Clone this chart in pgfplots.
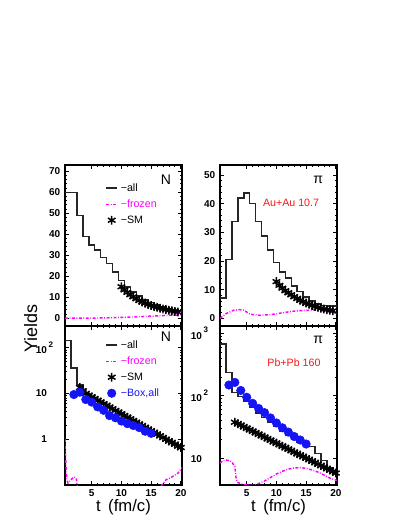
\documentclass[border=0pt]{standalone}
\usepackage{pgfplots}
\pgfplotsset{compat=1.18}
\usepackage{fontspec}
\setmainfont{Liberation Sans}
\definecolor{rmag}{RGB}{255,0,255}
\definecolor{rblue}{RGB}{20,20,245}
\definecolor{rred}{RGB}{255,20,20}
\newcommand\tenexp[1]{10\rlap{\hspace{1.2pt}\raisebox{5pt}{\fontsize{6}{6}\selectfont #1}}}
\pgfplotsset{
  rootax/.style={scale only axis, width=87.75pt, xmin=0.5, xmax=20.2,
    tick align=inside, xtick pos=both, ytick pos=both,
    major tick length=3.2pt, minor tick length=1.6pt,
    axis line style={line width=0.9pt},
    every tick/.style={black, line width=0.6pt},
    tick label style={font=\bfseries\fontsize{7.5}{8}\selectfont},
    xtick={5,10,15,20}, minor x tick num=4,
    legend cell align=left,
    legend style={draw=none, fill=none, inner sep=0pt, row sep=0pt,
      font=\fontsize{8}{9}\selectfont,
      nodes={inner ysep=0pt, text height=8.5pt, text depth=3.5pt},
      /tikz/every even column/.append style={column sep=7pt}},
  },
  lineleg/.style={legend image code/.code={\draw[##1] (0pt,0pt) -- (8.5pt,0pt);}},
  markleg/.style={legend image code/.code={\draw[mark repeat=2,mark phase=2,##1] plot coordinates {(0pt,0pt)(4.25pt,0pt)(8.5pt,0pt)};}},
  frz/.style={rmag, line width=1.1pt, dash pattern=on 2.2pt off 1.2pt on 0.6pt off 1.2pt},
  hst/.style={const plot, black!85, line width=1.15pt},
  sm/.style={only marks, mark=asterisk, mark size=3.3pt, mark options={line width=1.1pt}, black},
  box/.style={only marks, mark=*, mark size=3.2pt, mark options={fill=rblue, draw=rblue}},
}
\begin{document}
\begin{tikzpicture}
\path[use as bounding box] (0,0) rectangle (303pt,392.25pt);

% ---------------- top left: N, Au+Au
\begin{axis}[rootax, at={(48.75pt,147.75pt)}, anchor=south west, height=120.75pt,
  ymin=-3.7, ymax=73, ytick={0,10,20,30,40,50,60,70}, minor y tick num=4,
  yticklabels={0,10,20,30,40,50,60,70}, xticklabels={},
  legend style={at={(axis description cs:0.342,0.907)}, anchor=north west}]
\addplot[hst, lineleg] coordinates {
(0.5,60)(1.5,60)(2.5,49)(3.5,39)(4.5,35)(5.5,32.5)(6.5,29)(7.5,26)(8.5,22)(9.5,18)(10.5,15)(11.5,12.5)(12.5,10.5)(13.5,8.8)(14.5,7.4)(15.5,6.3)(16.5,5.3)(17.5,4.6)(18.5,4.0)(19.5,3.5)(20.5,3.5)};
\addlegendentry{−all}
\addplot[frz, lineleg] coordinates {
(0.5,0)(3,0)(6,0.1)(9,0.3)(12,0.6)(15,1.0)(18,1.4)(20.2,1.6)};
\addlegendentry{\textcolor{rmag}{−frozen}}
\addplot[sm, markleg] coordinates {
(10,15.0)(10.5,13.5)(11,12.3)(11.5,11.2)(12,10.2)(12.5,9.3)(13,8.5)(13.5,7.8)(14,7.2)(14.5,6.6)(15,6.1)(15.5,5.6)(16,5.2)(16.5,4.8)(17,4.4)(17.5,4.1)(18,3.8)(18.5,3.5)(19,3.2)(19.5,3.0)};
\addlegendentry{−SM}
\node[font=\fontsize{10.5}{12}\selectfont] at (axis description cs:0.862,0.907) {N};
\end{axis}

% ---------------- top right: pi, Au+Au
\begin{axis}[rootax, at={(165pt,147.75pt)}, anchor=south west, height=120.75pt,
  ymin=-2.7, ymax=53.5, ytick={0,10,20,30,40,50}, minor y tick num=4,
  yticklabels={0,10,20,30,40,50}, xticklabels={}]
\addplot[hst] coordinates {
(0.5,7)(1.5,20.5)(2.5,33.8)(3.5,42)(4.5,43.8)(5.5,40)(6.5,33.7)(7.5,28.7)(8.5,23.8)(9.5,19.4)(10.5,16.2)(11.5,14.1)(12.5,11.2)(13.5,9.3)(14.5,7.5)(15.5,6.1)(16.5,5.0)(17.5,4.4)(18.5,4.2)(19.5,4.3)(20.5,4.3)};
\addplot[frz] coordinates {
(0.5,0)(1.6,1.7)(2.8,2.8)(3.8,3.0)(4.5,2.8)(5.6,1.4)(7.3,1.0)(9.5,1.4)(11,1.9)(12.9,2.5)(14.5,2.7)(16.3,2.9)(18.5,2.5)(20.2,1.7)};
\addplot[sm] coordinates {
(10,12.8)(10.5,11.5)(11,10.5)(11.5,9.6)(12,8.9)(12.5,8.2)(13,7.5)(13.5,6.9)(14,6.3)(14.5,5.8)(15,5.3)(15.5,4.9)(16,4.5)(16.5,4.1)(17,3.8)(17.5,3.5)(18,3.2)(18.5,3.0)(19,2.8)(19.5,2.6)};
\node[font=\fontsize{10.5}{12}\selectfont] at (axis description cs:0.84,0.907) {π};
\node[font=\fontsize{8}{9}\selectfont, text=rred] at (axis description cs:0.607,0.762) {Au+Au 10.7};
\end{axis}

% ---------------- bottom left: N, Pb+Pb
\begin{axis}[rootax, at={(48.75pt,28.5pt)}, anchor=south west, height=119.25pt,
  ymode=log, ymin=0.1, ymax=300, ytick={1,10,100},
  yticklabels={1,10,\tenexp{2}}, yticklabel style={xshift=-10pt},
  xticklabels={5,10,15,20},
  legend style={at={(axis description cs:0.342,0.931)}, anchor=north west}]
\addplot[hst, lineleg] coordinates {
(0.5,146)(1.5,36.4)(2.5,15.2)(3.5,10)(4.5,8.4)(5.5,7.1)(6.5,6.0)(7.5,5.0)(8.5,4.3)(9.5,3.6)(10.5,3.0)(11.5,2.6)(12.5,2.2)(13.5,1.8)(14.5,1.55)(15.5,1.3)(16.5,1.1)(17.5,0.92)(18.5,0.78)(19.5,0.66)(20.5,0.66)};
\addlegendentry{−all}
\addplot[frz, lineleg] coordinates {
(0.5,1.0)(0.6,0.4)(0.8,0.13)(1.0,0.11)(1.5,0.13)(2.0,0.15)(2.4,0.14)(2.6,0.09)(3,0.05)(16,0.05)(16.8,0.1)(17.5,0.13)(18.5,0.15)(19.5,0.18)(20.2,0.24)};
\addlegendentry{\textcolor{rmag}{−frozen}}
\addplot[sm, markleg] coordinates {
(3,13.5)(3.5,11.6)(4,10.0)(4.5,9.18)(5,8.43)(5.5,7.74)(6,7.11)(6.5,6.53)(7,5.99)(7.5,5.50)(8,5.05)(8.5,4.64)(9,4.26)(9.5,3.91)(10,3.60)(10.5,3.30)(11,3.03)(11.5,2.79)(12,2.56)(12.5,2.35)(13,2.16)(13.5,1.98)(14,1.82)(14.5,1.67)(15,1.54)(15.5,1.41)(16,1.30)(16.5,1.19)(17,1.09)(17.5,1.00)(18,0.92)(18.5,0.85)(19,0.78)(19.5,0.71)(20,0.66)};
\addlegendentry{−SM}
\addplot[box, markleg] coordinates {
(2,9.5)(3,10.7)(4,7.4)(5,6.5)(6,5.1)(7,4.3)(8,3.3)(9,2.95)(10,2.5)(11,2.2)(12,2.0)(13,1.8)(14,1.5)(15,1.35)};
\addlegendentry{\textcolor{rblue}{−Box,all}}
\node[font=\fontsize{10.5}{12}\selectfont] at (axis description cs:0.862,0.933) {N};
\end{axis}

% ---------------- bottom right: pi, Pb+Pb
\begin{axis}[rootax, at={(165pt,28.5pt)}, anchor=south west, height=119.25pt,
  ymode=log, ymin=3.8, ymax=1300, ytick={10,100,1000},
  yticklabels={10,\tenexp{2},\tenexp{3}}, yticklabel style={xshift=-10pt},
  xticklabels={5,10,15,20}]
\addplot[hst] coordinates {
(0.5,671)(1.5,235)(2.5,113)(3.5,97)(4.5,81)(5.5,65)(6.5,53)(7.5,45)(8.5,38)(9.5,32.5)(10.5,27.5)(11.5,23.5)(12.5,20.5)(13.5,18.5)(14.5,17)(15.5,15.5)(16.5,12)(17.5,9.4)(18.5,7.1)(19.5,5.9)(20.5,5.9)};
\addplot[frz] coordinates {
(0.5,8.5)(1.0,9.3)(1.5,9.5)(2.2,9.3)(2.6,8.5)(3.0,7.5)(3.2,5)(3.4,4.2)(4,4.0)(5,3.8)(6,3.75)(7,4.0)(8,4.4)(9,5.0)(10,5.7)(11,6.3)(12,6.8)(13,7.1)(14,7.2)(15,7.0)(16,6.6)(17,6.1)(18,5.5)(19,4.9)(20.2,4.5)};
\addplot[sm] coordinates {
(3,38.0)(3.5,36.0)(4,34.1)(4.5,32.3)(5,30.5)(5.5,28.9)(6,27.4)(6.5,25.9)(7,24.5)(7.5,23.2)(8,22.0)(8.5,20.8)(9,19.7)(9.5,18.6)(10,17.7)(10.5,16.7)(11,15.8)(11.5,15.0)(12,14.2)(12.5,13.4)(13,12.7)(13.5,12.0)(14,11.4)(14.5,10.8)(15,10.2)(15.5,9.66)(16,9.14)(16.5,8.65)(17,8.19)(17.5,7.75)(18,7.34)(18.5,6.95)(19,6.58)(19.5,6.23)(20,5.89)};
\addplot[box] coordinates {
(2,149)(3,164)(4,122)(5,95)(6,76)(7,63)(8,54)(9,44.5)(10,37)(11,31)(12,26.5)(13,22.5)(14,19.8)(15,17.1)};
\node[font=\fontsize{10.5}{12}\selectfont] at (axis description cs:0.84,0.912) {π};
\node[font=\fontsize{8}{9}\selectfont, text=rred] at (axis description cs:0.632,0.769) {Pb+Pb 160};
\end{axis}

% axis titles
\node[rotate=90, anchor=base west, inner sep=0pt, font=\fontsize{13.5}{15}\selectfont] at (27.75pt,127.5pt) {Yields};
\node[anchor=base, inner sep=0pt, font=\fontsize{12.5}{14}\selectfont] at (92.6pt,8.5pt) {t\hspace{0.45em}(fm/c)};
\node[anchor=base, inner sep=0pt, font=\fontsize{12.5}{14}\selectfont] at (208.9pt,8.5pt) {t\hspace{0.45em}(fm/c)};
\end{tikzpicture}
\end{document}
